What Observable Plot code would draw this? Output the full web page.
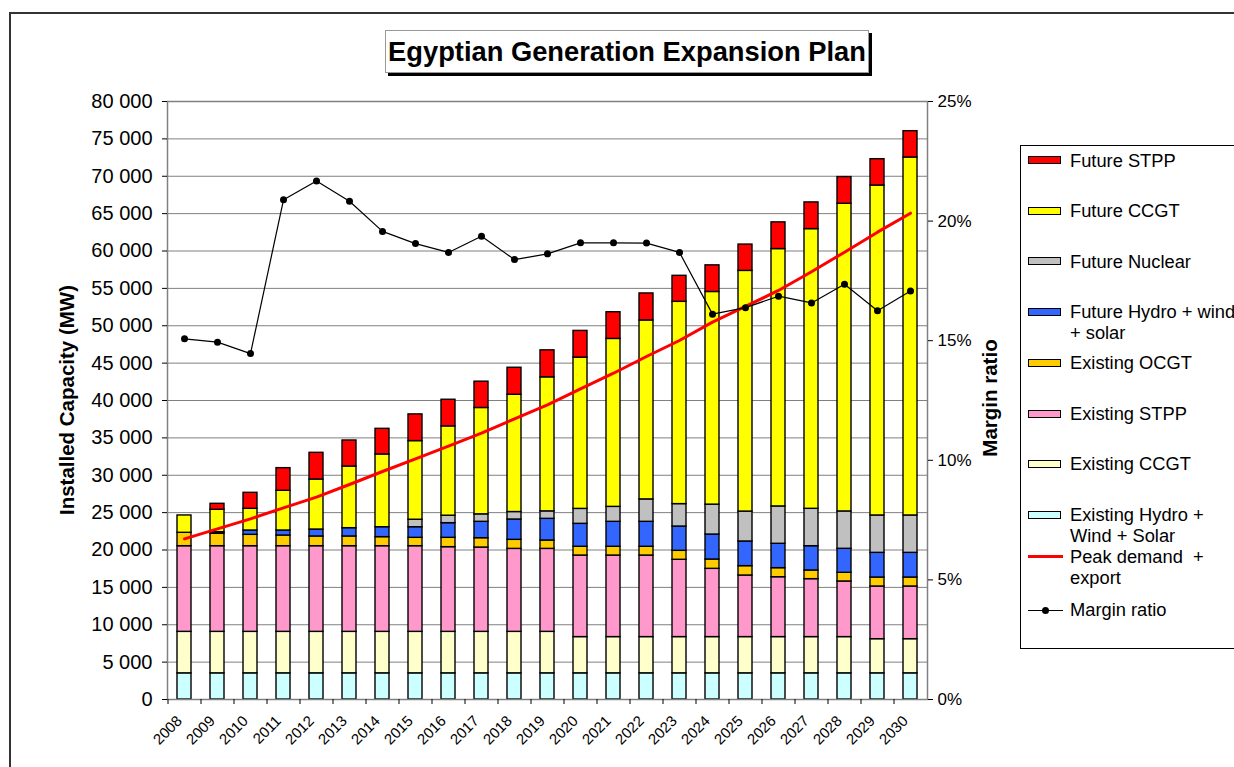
<!DOCTYPE html>
<html><head><meta charset="utf-8">
<script src="https://cdn.jsdelivr.net/npm/d3@7"></script>
<script src="https://cdn.jsdelivr.net/npm/@observablehq/plot@0.6"></script>
<style>
body{margin:0;background:#fff;font-family:"Liberation Sans",Arial,sans-serif;}
#wrap{position:relative;width:1234px;height:767px;overflow:hidden;background:#fff;}
#border{position:absolute;left:9px;top:12px;width:1300px;height:800px;border-left:2px solid #333;border-top:2px solid #333;}
#chart{position:absolute;left:0;top:0;}
#title{position:absolute;left:385px;top:30px;width:482px;height:41px;border:1px solid #999;background:#fff;box-shadow:3px 3px 0 #000;font-weight:bold;font-size:27.3px;text-align:center;line-height:41px;color:#000;}
.alab{position:absolute;font-weight:bold;font-size:20.5px;white-space:nowrap;transform:translate(-50%,-50%) rotate(-90deg);color:#000;}
#legend{position:absolute;left:1020px;top:145px;width:260px;height:502px;border:1px solid #000;background:#fff;}
.sw{position:absolute;left:7px;width:31px;height:6px;border:1.5px solid #000;}
.lt{position:absolute;left:49px;font-size:18.3px;line-height:21px;white-space:nowrap;color:#000;}
</style>
</head><body>
<div id="wrap">
  <div id="border"></div>
  <div id="chart"></div>
  <div id="title">Egyptian Generation Expansion Plan</div>
  <div class="alab" style="left:67px;top:400px;">Installed Capacity (MW)</div>
  <div class="alab" style="left:990px;top:398px;">Margin ratio</div>
  <div id="legend"></div>
</div>
<script>
const years = ["2008","2009","2010","2011","2012","2013","2014","2015","2016","2017","2018","2019","2020","2021","2022","2023","2024","2025","2026","2027","2028","2029","2030"];

const existingHydro = [3500,3500,3500,3500,3500,3500,3500,3500,3500,3500,3500,3500,3500,3500,3500,3500,3500,3500,3500,3500,3500,3500,3500];
const existingCCGT = [5550,5550,5550,5550,5550,5550,5550,5550,5550,5550,5550,5550,4850,4850,4850,4850,4850,4850,4850,4850,4850,4570,4570];
const existingSTPP = [11460,11460,11460,11460,11460,11460,11460,11460,11330,11280,11100,11100,10910,10910,10910,10340,9130,8240,8010,7750,7440,7050,7050];
const existingOCGT = [1790,1660,1520,1430,1300,1300,1210,1120,1250,1250,1210,1120,1170,1170,1170,1200,1250,1250,1210,1160,1160,1200,1200];
const futureHydro = [0,210,580,670,930,1110,1330,1420,1960,2190,2720,2900,3070,3340,3340,3250,3340,3300,3260,3250,3210,3300,3300];
const futureNuclear = [0,0,0,0,0,0,0,1000,1000,1000,1000,1000,2000,2000,3000,3000,4000,4000,5000,5000,5000,5000,5000];
const futureCCGT = [2320,3000,2900,5310,6690,8250,9730,10520,11950,14230,15690,17930,20240,22470,23940,27060,28450,32200,34430,37420,41160,44140,47890];
const futureSTPP = [0,800,2140,3030,3570,3480,3430,3570,3560,3520,3610,3610,3570,3570,3610,3480,3560,3520,3570,3570,3570,3520,3520];

const peakDemand = [21490,22830,24170,25640,27070,28760,30500,32200,33890,35630,37550,39420,41560,43650,45890,48030,50480,52580,54720,57220,59840,62520,65060];
const marginRatio = [15.08,14.94,14.46,20.89,21.68,20.83,19.57,19.06,18.69,19.37,18.39,18.63,19.09,19.09,19.08,18.69,16.11,16.38,16.86,16.58,17.36,16.25,17.08];

const leftTicks = [0,5000,10000,15000,20000,25000,30000,35000,40000,45000,50000,55000,60000,65000,70000,75000,80000];
const rightTicks = [0,5,10,15,20,25];

const stackNames = ["Existing Hydro + Wind + Solar","Existing CCGT","Existing STPP","Existing OCGT","Future Hydro + wind + solar","Future Nuclear","Future CCGT","Future STPP"];
const stackColors = ["#CCFFFF","#FFFFCC","#FF99CC","#FFCC00","#3366FF","#C0C0C0","#FFFF00","#FF0000"];
const stackValues = [existingHydro,existingCCGT,existingSTPP,existingOCGT,futureHydro,futureNuclear,futureCCGT,futureSTPP];

const legendItems = [
  {label:"Future STPP", color:"#FF0000"},
  {label:"Future CCGT", color:"#FFFF00"},
  {label:"Future Nuclear", color:"#C0C0C0"},
  {label:"Future Hydro + wind<br>+ solar", color:"#3366FF"},
  {label:"Existing OCGT", color:"#FFCC00"},
  {label:"Existing STPP", color:"#FF99CC"},
  {label:"Existing CCGT", color:"#FFFFCC"},
  {label:"Existing Hydro +<br>Wind + Solar", color:"#CCFFFF"},
  {label:"Peak demand &nbsp;+<br>export", line:"#FF0000"},
  {label:"Margin ratio", dotline:"#000"}
];

// percent -> MW on the shared y scale (25% at 80 000)
const pctScale = 80000 / 25;

const table = [];
stackNames.forEach((s, k) => years.forEach((y, i) => table.push({year: y, series: s, value: stackValues[k][i]})));
const lines = years.map((y, i) => ({year: y, demand: peakDemand[i], margin: marginRatio[i] * pctScale}));

const fmt = d => d3.format(",")(d).replace(/,/g, " ");

const chart = Plot.plot({
  width: 1010, height: 767,
  marginLeft: 167, marginRight: 83, marginTop: 101, marginBottom: 68,
  style: {fontFamily: "'Liberation Sans', Arial, sans-serif", background: "transparent", color: "#000"},
  x: {type: "band", domain: years, paddingInner: 0.59, paddingOuter: 0.295, label: null},
  y: {domain: [0, 80000], label: null},
  color: {domain: stackNames, range: stackColors},
  marks: [
    Plot.gridY(leftTicks, {stroke: "#808080", strokeOpacity: 1, strokeWidth: 1}),
    Plot.barY(table, {x: "year", y: "value", fill: "series", stroke: "#000", strokeWidth: 1.4}),
    Plot.line(lines, {x: "year", y: "demand", stroke: "#FF0000", strokeWidth: 3}),
    Plot.line(lines, {x: "year", y: "margin", stroke: "#000", strokeWidth: 1.2}),
    Plot.dot(lines, {x: "year", y: "margin", r: 3.5, fill: "#000", stroke: "none"}),
    Plot.frame({stroke: "#808080", strokeWidth: 1.5}),
    Plot.axisY(leftTicks, {anchor: "left", tickFormat: fmt, tickSize: 5, tickPadding: 10, fontSize: 20, label: null}),
    Plot.axisY(rightTicks.map(p => p * pctScale), {anchor: "right", tickFormat: d => Math.round(d / pctScale) + "%", tickSize: 5, tickPadding: 5, fontSize: 17, label: null}),
    Plot.axisX({tickRotate: -45, tickSize: 0, tickPadding: 19, fontSize: 15, dx: -5, label: null}),
    Plot.axisX({tickFormat: () => "", tickSize: 5, dx: -16.5, label: null})
  ]
});
document.getElementById("chart").appendChild(chart);

const leg = document.getElementById("legend");
const centers = [14.7, 65, 115.7, 166, 217.3, 268.3, 318.3, 369, 410.7, 464];
legendItems.forEach((it, i) => {
  const c = centers[i];
  let sw;
  if (it.color) {
    sw = `<div class="sw" style="top:${c - 4.5}px;background:${it.color}"></div>`;
  } else if (it.line) {
    sw = `<div style="position:absolute;left:7px;top:${c - 1.5}px;width:35px;height:3px;background:${it.line}"></div>`;
  } else {
    sw = `<div style="position:absolute;left:7px;top:${c - 0.5}px;width:35px;height:1px;background:${it.dotline}"></div>` +
         `<div style="position:absolute;left:21px;top:${c - 3.5}px;width:7px;height:7px;border-radius:50%;background:${it.dotline}"></div>`;
  }
  leg.insertAdjacentHTML("beforeend", sw + `<div class="lt" style="top:${c - 11}px">${it.label}</div>`);
});
</script>
</body></html>
